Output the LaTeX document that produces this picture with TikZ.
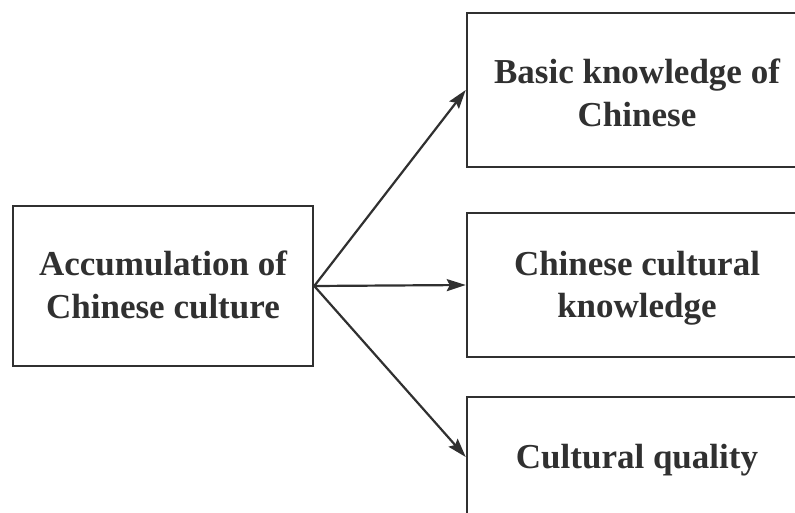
\documentclass[tikz,border=0pt]{standalone}
\usepackage{fontspec}
\setmainfont{Liberation Serif}[BoldFont={Liberation Serif Bold}]
\usetikzlibrary{arrows.meta}
\definecolor{ink}{HTML}{303030}
\tikzset{
  box/.style={draw=ink, line width=2.5pt, inner sep=0pt},
  lbl/.style={inner sep=0pt, align=center, text=ink,
    font=\fontsize{35}{42.5}\selectfont\bfseries},
  arr/.style={draw=ink, line width=2.2pt, -{Stealth[length=19pt,width=12pt,inset=3pt]}}
}
\begin{document}
\begin{tikzpicture}[x=1pt,y=-1pt]
\useasboundingbox (0,0) rectangle (795,513);
\clip (0,0) rectangle (795,513);
\fill[white] (0,0) rectangle (795,513);
\node[box, minimum width=300pt, minimum height=160pt] (src) at (163,286) {};
\node[box, minimum width=340pt, minimum height=154pt] (a) at (637,90) {};
\node[box, minimum width=340pt, minimum height=144pt] (b) at (637,285) {};
\node[box, minimum width=340pt, minimum height=120pt] (c) at (637,457) {};
\node[lbl, yshift=1pt] (srct) at (src.center) {Accumulation of\\Chinese culture};
\node[lbl, yshift=-3pt] (at) at (a.center) {Basic knowledge of\\Chinese};
\node[lbl, yshift=-3pt] (bt) at (b.center) {Chinese cultural\\knowledge};
\node[lbl, yshift=-3pt] (ct) at (c.center) {Cultural quality};
\draw[arr] (src.east) -- (a.west);
\draw[arr] (src.east) -- (b.west);
\draw[arr] (src.east) -- (c.west);
\end{tikzpicture}
\end{document}
